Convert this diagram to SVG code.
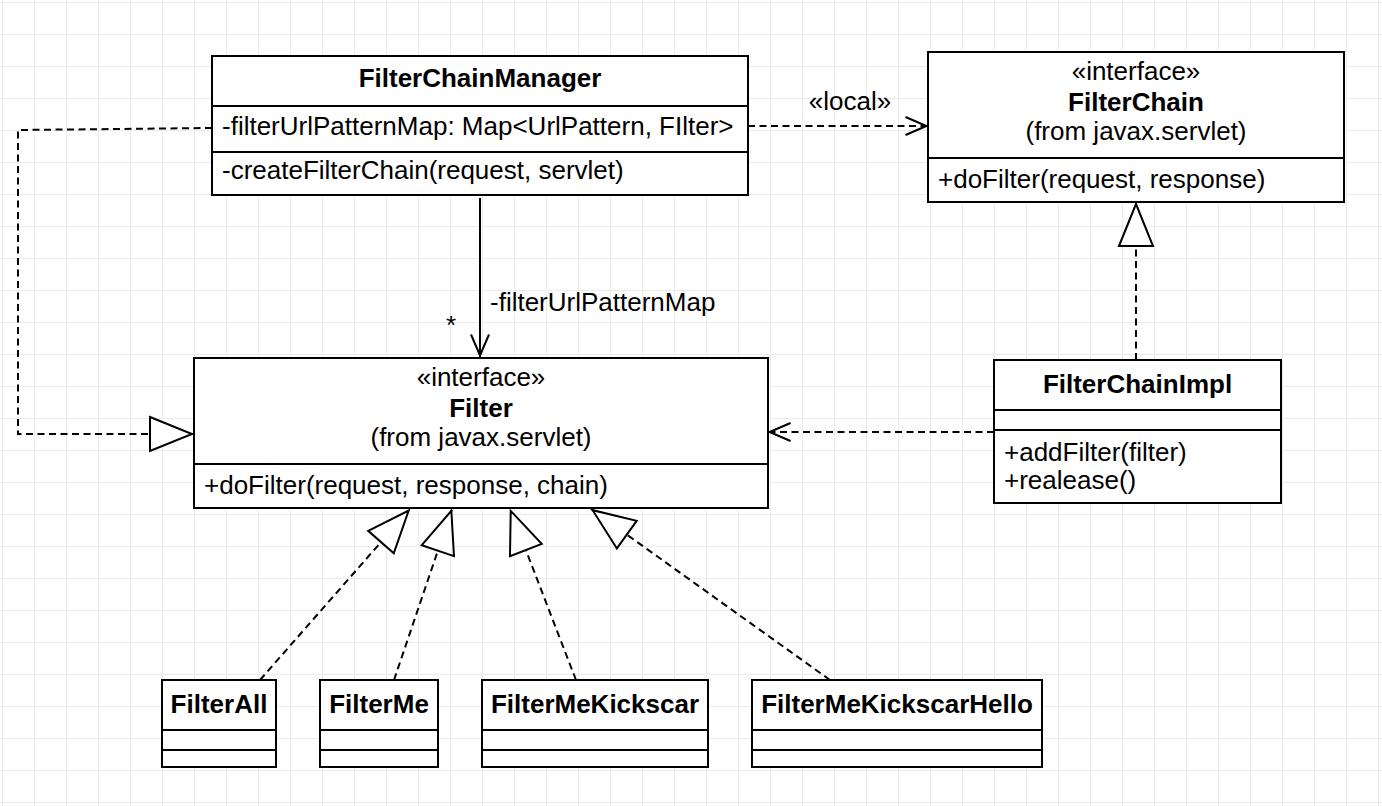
<svg xmlns="http://www.w3.org/2000/svg" width="1382" height="806" viewBox="0 0 1382 806">
<style>
text{font-family:"Liberation Sans",Arial,sans-serif;font-size:26px;fill:#000}
.b{font-weight:bold}
.c{text-anchor:middle}
.box{fill:#fff;stroke:#000;stroke-width:2}
.div{stroke:#000;stroke-width:2}
.dash{fill:none;stroke:#000;stroke-width:2;stroke-dasharray:7 4.5}
.solid{fill:none;stroke:#000;stroke-width:2}
</style>
<defs>
<pattern id="grid" x="2" y="2" width="32" height="32" patternUnits="userSpaceOnUse">
<path d="M0.5,0 V32 M0,0.5 H32" fill="none" stroke="#ebebeb" stroke-width="1"/>
</pattern>
<marker id="open" markerUnits="userSpaceOnUse" orient="auto" refX="23.5" refY="10" markerWidth="30" markerHeight="24" overflow="visible">
<path d="M1,1 L22,10 L1,19" fill="none" stroke="#000" stroke-width="2"/>
</marker>
<marker id="tri" markerUnits="userSpaceOnUse" orient="auto" refX="44" refY="17" markerWidth="50" markerHeight="40" overflow="visible">
<path d="M0,0 L42,17 L0,34 Z" fill="#fff" stroke="#000" stroke-width="2"/>
</marker>
</defs>
<rect width="1382" height="806" fill="#fff"/>
<rect width="1382" height="806" fill="url(#grid)"/>

<g id="connectors">
<path class="dash" d="M212,128 L18,130 L18,434 L194,434" marker-end="url(#tri)"/>
<path class="dash" d="M748,126 L928,126" marker-end="url(#open)"/>
<text class="c" x="850" y="110">«local»</text>
<path class="solid" d="M480,198 L480,357" marker-end="url(#open)"/>
<text x="490" y="311">-filterUrlPatternMap</text>
<text x="446" y="334">*</text>
<path class="dash" d="M1136,360 L1136,202" marker-end="url(#tri)"/>
<path class="dash" d="M994,432 L768,432" marker-end="url(#open)"/>
<path class="dash" d="M260,680 L410,509" marker-end="url(#tri)"/>
<path class="dash" d="M394,680 L452,509" marker-end="url(#tri)"/>
<path class="dash" d="M576,680 L510,509" marker-end="url(#tri)"/>
<path class="dash" d="M830,680 L591,509" marker-end="url(#tri)"/>
</g>

<g id="FilterChainManager">
<rect class="box" x="212" y="56" width="536" height="139"/>
<line class="div" x1="212" y1="106" x2="748" y2="106"/>
<line class="div" x1="212" y1="152" x2="748" y2="152"/>
<text class="b c" x="480" y="87">FilterChainManager</text>
<text x="222" y="135">-filterUrlPatternMap: Map&lt;UrlPattern, FIlter&gt;</text>
<text x="222" y="179">-createFilterChain(request, servlet)</text>
</g>

<g id="FilterChain">
<rect class="box" x="928" y="52" width="416" height="150"/>
<line class="div" x1="928" y1="158" x2="1344" y2="158"/>
<text class="c" x="1136" y="80">«interface»</text>
<text class="b c" x="1136" y="111">FilterChain</text>
<text class="c" x="1136" y="140">(from javax.servlet)</text>
<text x="938" y="188">+doFilter(request, response)</text>
</g>

<g id="Filter">
<rect class="box" x="194" y="358" width="574" height="150"/>
<line class="div" x1="194" y1="464" x2="768" y2="464"/>
<text class="c" x="481" y="386">«interface»</text>
<text class="b c" x="481" y="417">Filter</text>
<text class="c" x="481" y="446">(from javax.servlet)</text>
<text x="204" y="494">+doFilter(request, response, chain)</text>
</g>

<g id="FilterChainImpl">
<rect class="box" x="994" y="360" width="287" height="143"/>
<line class="div" x1="994" y1="410" x2="1281" y2="410"/>
<line class="div" x1="994" y1="430" x2="1281" y2="430"/>
<text class="b c" x="1137.5" y="393">FilterChainImpl</text>
<text x="1004" y="461">+addFilter(filter)</text>
<text x="1004" y="489">+realease()</text>
</g>

<g id="FilterAll">
<rect class="box" x="162" y="680" width="114" height="87"/>
<line class="div" x1="162" y1="730" x2="276" y2="730"/>
<line class="div" x1="162" y1="750" x2="276" y2="750"/>
<text class="b c" x="219" y="713">FilterAll</text>
</g>

<g id="FilterMe">
<rect class="box" x="320" y="680" width="118" height="87"/>
<line class="div" x1="320" y1="730" x2="438" y2="730"/>
<line class="div" x1="320" y1="750" x2="438" y2="750"/>
<text class="b c" x="379" y="713">FilterMe</text>
</g>

<g id="FilterMeKickscar">
<rect class="box" x="482" y="680" width="226" height="87"/>
<line class="div" x1="482" y1="730" x2="708" y2="730"/>
<line class="div" x1="482" y1="750" x2="708" y2="750"/>
<text class="b c" x="595" y="713">FilterMeKickscar</text>
</g>

<g id="FilterMeKickscarHello">
<rect class="box" x="752" y="680" width="290" height="87"/>
<line class="div" x1="752" y1="730" x2="1042" y2="730"/>
<line class="div" x1="752" y1="750" x2="1042" y2="750"/>
<text class="b c" x="897" y="713">FilterMeKickscarHello</text>
</g>
</svg>
